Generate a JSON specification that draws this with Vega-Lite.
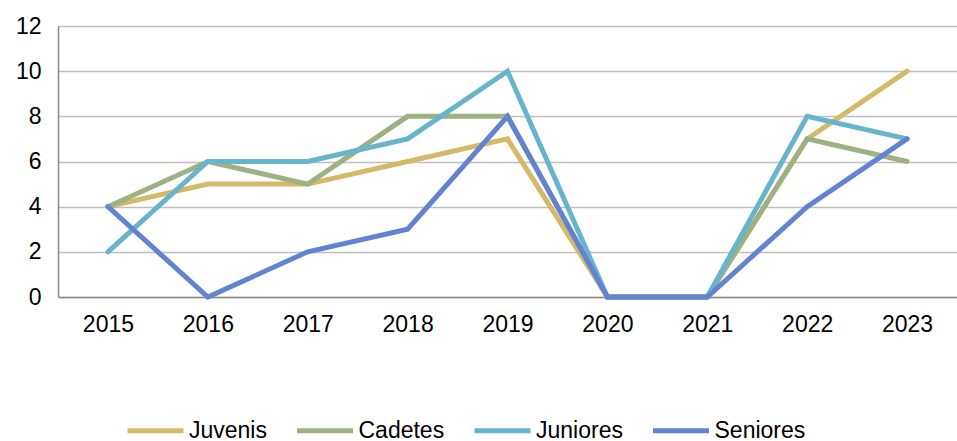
{
  "$schema": "https://vega.github.io/schema/vega-lite/v6.json",
  "autosize": "none",
  "width": 899,
  "height": 271,
  "padding": {"left": 58, "top": 26, "right": 0, "bottom": 144},
  "config": {
    "font": "Liberation Sans",
    "view": {"stroke": null},
    "axis": {"labelFont": "Liberation Sans", "labelColor": "#000", "labelFontSize": 23}
  },
  "data": {
    "values": [
      {"year": "2015", "series": "Juvenis", "value": 4},
      {"year": "2016", "series": "Juvenis", "value": 5},
      {"year": "2017", "series": "Juvenis", "value": 5},
      {"year": "2018", "series": "Juvenis", "value": 6},
      {"year": "2019", "series": "Juvenis", "value": 7},
      {"year": "2020", "series": "Juvenis", "value": 0},
      {"year": "2021", "series": "Juvenis", "value": 0},
      {"year": "2022", "series": "Juvenis", "value": 7},
      {"year": "2023", "series": "Juvenis", "value": 10},
      {"year": "2015", "series": "Cadetes", "value": 4},
      {"year": "2016", "series": "Cadetes", "value": 6},
      {"year": "2017", "series": "Cadetes", "value": 5},
      {"year": "2018", "series": "Cadetes", "value": 8},
      {"year": "2019", "series": "Cadetes", "value": 8},
      {"year": "2020", "series": "Cadetes", "value": 0},
      {"year": "2021", "series": "Cadetes", "value": 0},
      {"year": "2022", "series": "Cadetes", "value": 7},
      {"year": "2023", "series": "Cadetes", "value": 6},
      {"year": "2015", "series": "Juniores", "value": 2},
      {"year": "2016", "series": "Juniores", "value": 6},
      {"year": "2017", "series": "Juniores", "value": 6},
      {"year": "2018", "series": "Juniores", "value": 7},
      {"year": "2019", "series": "Juniores", "value": 10},
      {"year": "2020", "series": "Juniores", "value": 0},
      {"year": "2021", "series": "Juniores", "value": 0},
      {"year": "2022", "series": "Juniores", "value": 8},
      {"year": "2023", "series": "Juniores", "value": 7},
      {"year": "2015", "series": "Seniores", "value": 4},
      {"year": "2016", "series": "Seniores", "value": 0},
      {"year": "2017", "series": "Seniores", "value": 2},
      {"year": "2018", "series": "Seniores", "value": 3},
      {"year": "2019", "series": "Seniores", "value": 8},
      {"year": "2020", "series": "Seniores", "value": 0},
      {"year": "2021", "series": "Seniores", "value": 0},
      {"year": "2022", "series": "Seniores", "value": 4},
      {"year": "2023", "series": "Seniores", "value": 7}
    ]
  },
  "mark": {"type": "line", "strokeWidth": 5, "strokeCap": "round", "strokeJoin": "miter"},
  "encoding": {
    "x": {
      "field": "year", "type": "ordinal", "title": null,
      "scale": {"paddingInner": 0, "paddingOuter": 0.5},
      "axis": {"labelAngle": 0, "ticks": false, "domainColor": "#888", "domainWidth": 1.5, "labelPadding": 16, "grid": false}
    },
    "y": {
      "field": "value", "type": "quantitative", "title": null,
      "scale": {"domain": [0, 12]},
      "axis": {"values": [0, 2, 4, 6, 8, 10, 12], "ticks": false, "domainColor": "#888", "domainWidth": 1.5, "gridColor": "#bfbfbf", "gridWidth": 1.5, "labelPadding": 17}
    },
    "color": {
      "field": "series", "type": "nominal",
      "scale": {"domain": ["Juvenis", "Cadetes", "Juniores", "Seniores"], "range": ["#D4BA68", "#9DB182", "#66B5CC", "#6283D1"]},
      "legend": {
        "title": null, "orient": "none", "direction": "horizontal",
        "legendX": 67, "legendY": 374,
        "symbolType": "M-1,0L1,0", "symbolSize": 3136, "symbolStrokeWidth": 5,
        "labelFontSize": 23, "labelColor": "#000", "labelFont": "Liberation Sans",
        "labelOffset": 3, "columnPadding": 19.5
      }
    }
  }
}
